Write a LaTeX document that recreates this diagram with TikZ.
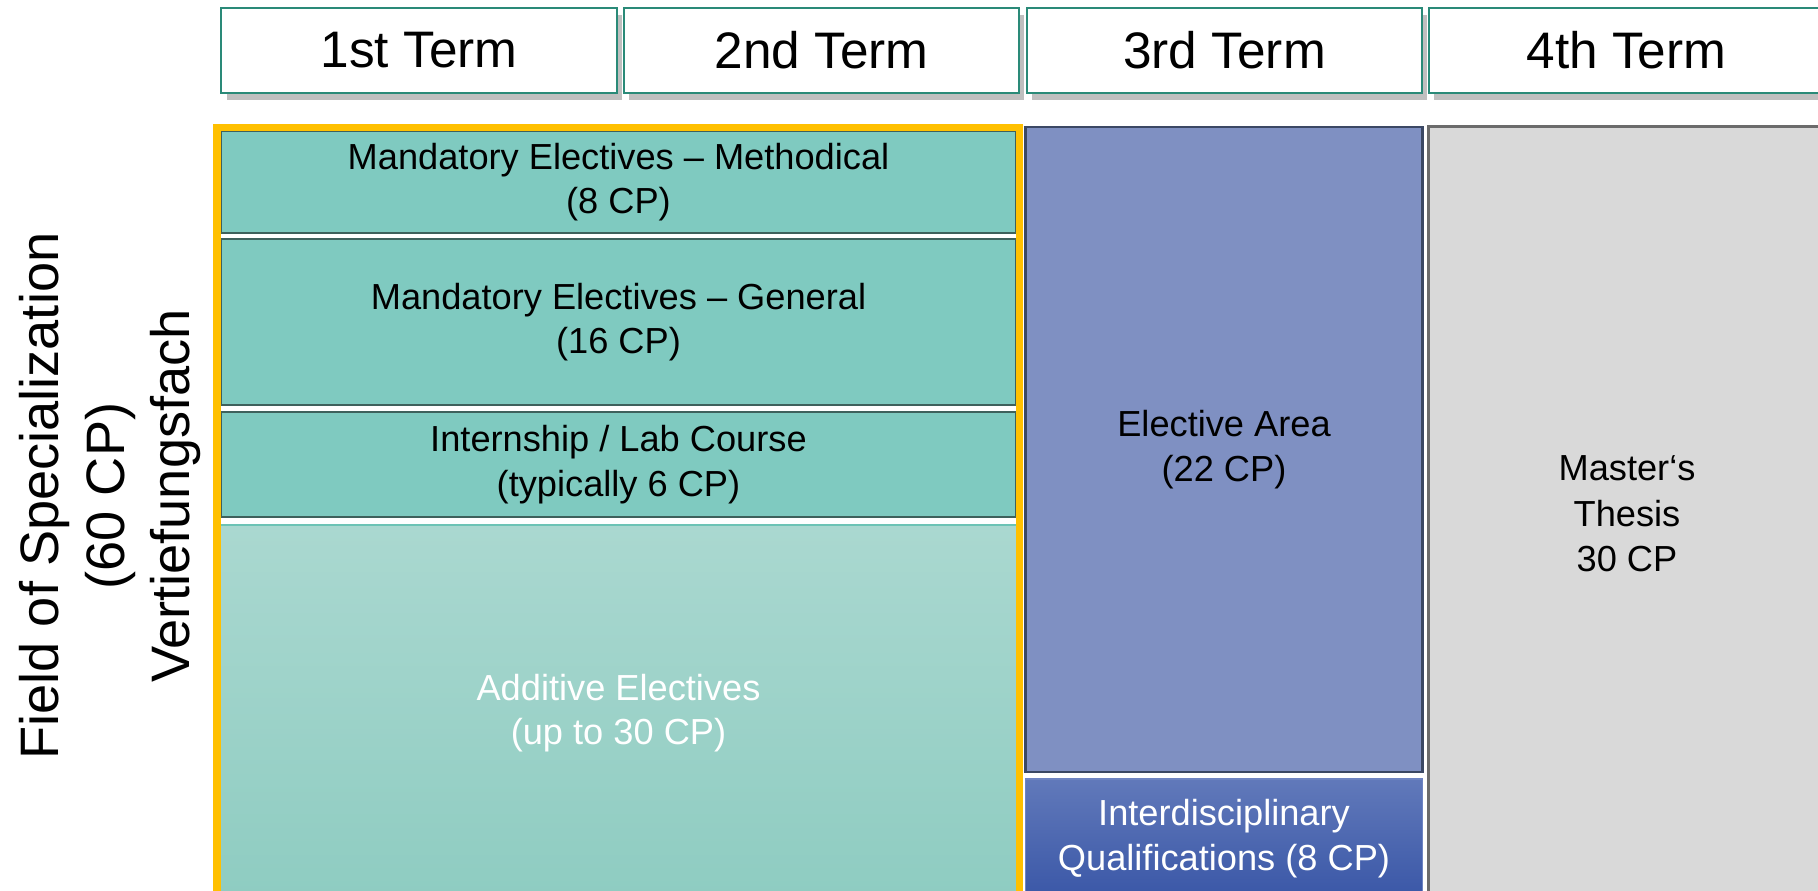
\documentclass[tikz,border=0pt]{standalone}
\usepackage{fontspec}
\setmainfont{Liberation Sans}
\usepackage{xcolor}
\usepackage{tikz}
\usetikzlibrary{
arrows.meta,
positioning,
shadows
}
\definecolor{termline}{HTML}{2A8A78}
\definecolor{modteal}{HTML}{7FCAC0}
\definecolor{modedge}{HTML}{3E615C}
\definecolor{addtop}{HTML}{AAD8D0}
\definecolor{addbot}{HTML}{8ECCC1}
\definecolor{addedge}{HTML}{6CC3B5}
\definecolor{electblue}{HTML}{7F90C2}
\definecolor{electedge}{HTML}{3B4864}
\definecolor{iqtop}{HTML}{6179BA}
\definecolor{iqbot}{HTML}{3A57A7}
\definecolor{iqedge}{HTML}{6E84C2}
\definecolor{thesisgray}{HTML}{D9D9D9}
\definecolor{thesisedge}{HTML}{6B6B6B}
\definecolor{fieldgold}{HTML}{FFC000}

\begin{document}
\begin{tikzpicture}[
  x=0.01cm, y=-0.01cm,
  term/.style={
    draw=termline, fill=white, line width=0.6pt,
    minimum width=3.95cm, minimum height=0.85cm,
    font=\fontsize{14.6pt}{17pt}\selectfont,
    drop shadow={shadow xshift=1.5pt, shadow yshift=-2pt,
                 fill=black, opacity=0.25}
  },
  module/.style={
    draw=modedge, fill=modteal, line width=0.8pt,
    minimum width=7.95cm, align=center, inner sep=0pt,
    font=\fontsize{10.3pt}{12.6pt}\selectfont
  },
  column/.style={
    minimum width=3.97cm, align=center, inner sep=0pt,
    font=\fontsize{10.3pt}{12.6pt}\selectfont
  }
]
\clip (0,0) rectangle (1818,891);

%% ============================================================
%%  TERM HEADERS
%% ============================================================
\node[term] (t1) at (419,50.5)    {1st Term};
\node[term] (t2) at (821.5,50.5)  {2nd Term};
\node[term] (t3) at (1224.5,50.5) {3rd Term};
\node[term] (t4) at (1626.5,50.5) {4th Term};

%% ============================================================
%%  FIELD OF SPECIALIZATION (terms 1 + 2)
%% ============================================================
\node[rotate=90, align=center, font=\fontsize{15.4pt}{18.6pt}\selectfont]
  (field) at (110,496)
  {Field of Specialization\\(60 CP)\\Vertiefungsfach};

\node[module, minimum height=1.02cm] (meth) at (618.5,182)
  {Mandatory Electives – Methodical\\(8 CP)};

\node[module, minimum height=1.66cm] (gen) at (618.5,322)
  {Mandatory Electives – General\\(16 CP)};

\node[module, minimum height=1.05cm] (lab) at (618.5,464.5)
  {Internship / Lab Course\\(typically 6 CP)};

\node[module, draw=addedge, line width=0.4pt,
      top color=addtop, bottom color=addbot,
      text=white, minimum height=3.76cm] (additive) at (618.5,713)
  {Additive Electives\\(up to 30 CP)};

%% gold frame round the field
\draw[fieldgold, line width=2pt]
  (217,127.5) rectangle (1019.5,910);

%% ============================================================
%%  TERM 3
%% ============================================================
\node[column, draw=electedge, fill=electblue, line width=0.7pt,
      minimum height=6.45cm] (elect) at (1224,449.5)
  {Elective Area\\(22 CP)};

\node[column, draw=iqedge, line width=0.4pt,
      top color=iqtop, bottom color=iqbot, text=white,
      minimum height=1.19cm] (iq) at (1224,838.5)
  {Interdisciplinary\\Qualifications (8 CP)};

%% ============================================================
%%  TERM 4
%% ============================================================
\node[column, draw=thesisedge, fill=thesisgray, line width=0.8pt,
      minimum height=7.74cm, font=\fontsize{10.3pt}{12.9pt}\selectfont]
  (thesis) at (1627,514)
  {Master‘s\\Thesis\\30 CP};

\end{tikzpicture}
\end{document}
